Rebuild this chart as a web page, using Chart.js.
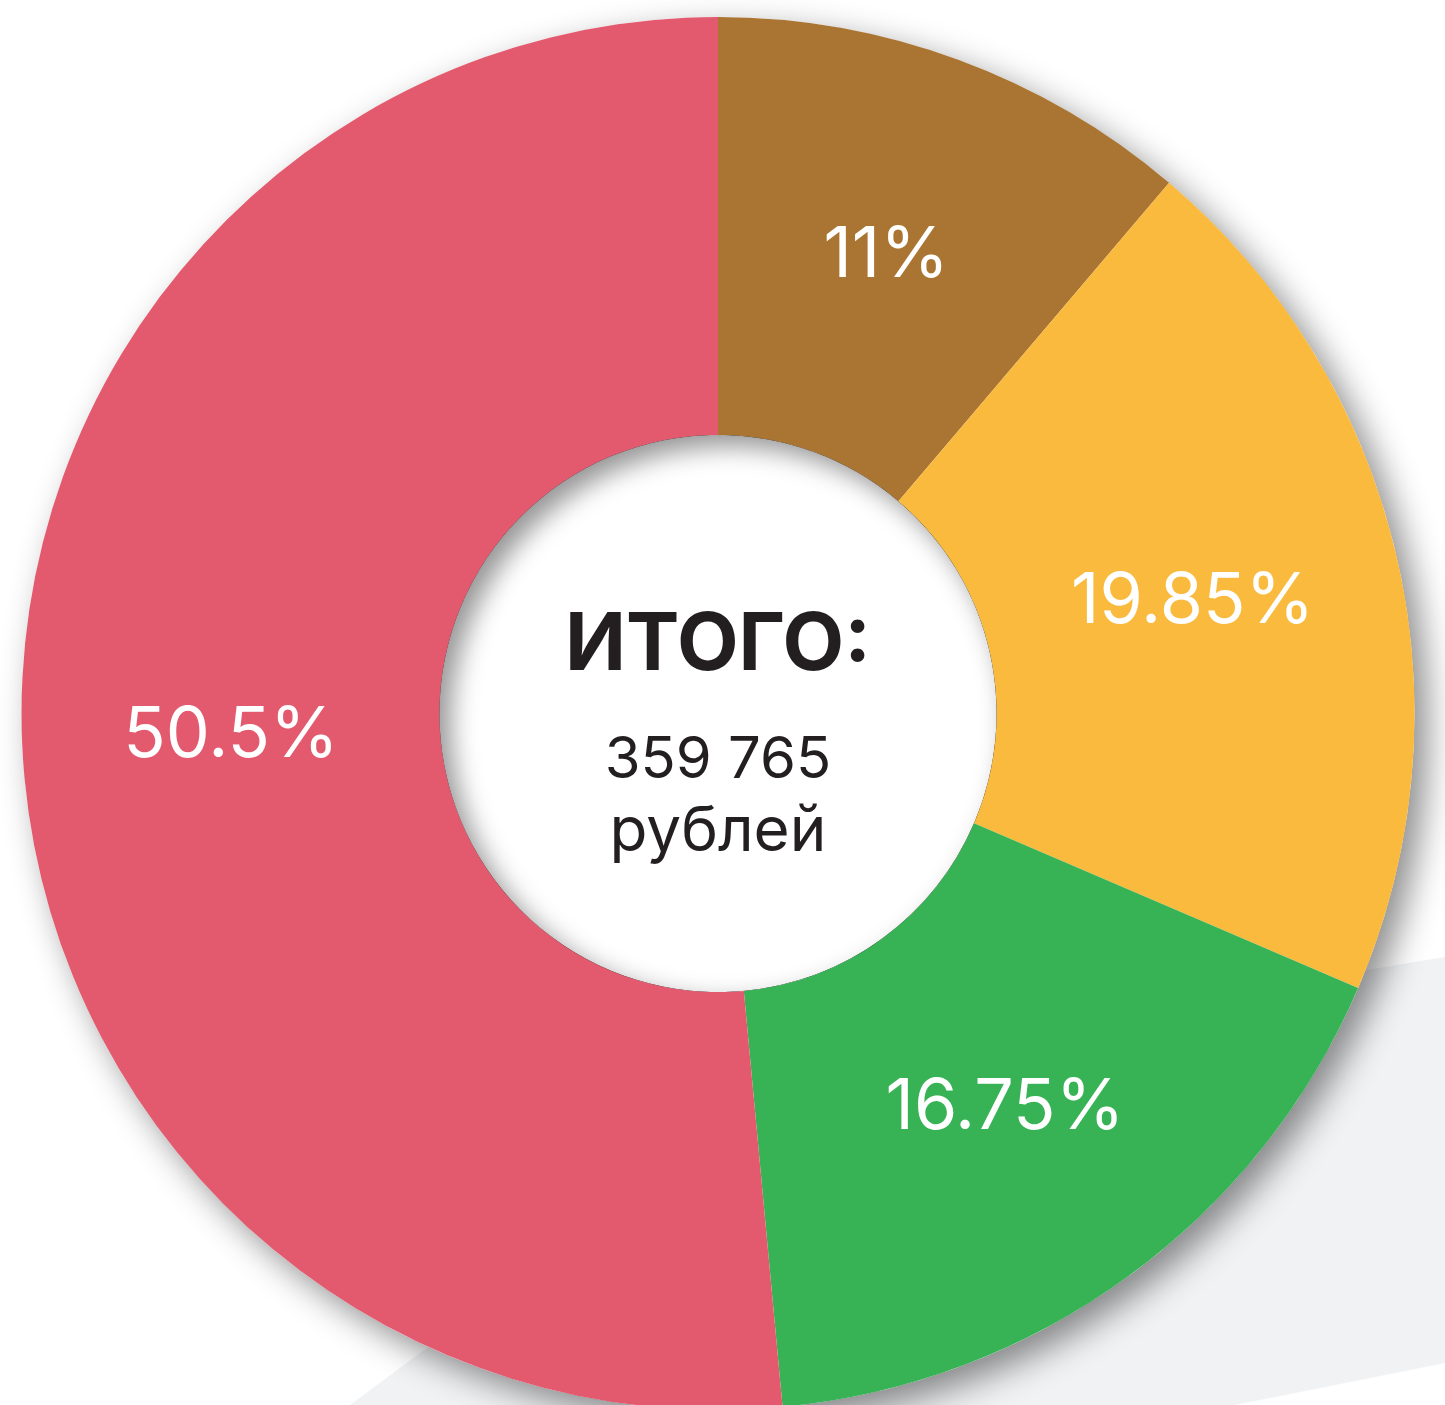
<!DOCTYPE html>
<html>
<head>
<meta charset="utf-8">
<script src="https://cdn.jsdelivr.net/npm/chart.js@4.4.0/dist/chart.umd.min.js"></script>
<style>
    html, body { margin: 0; padding: 0; background: #fff; overflow: hidden; }
    #wrap { position: relative; width: 1445px; height: 1445px; }
</style>
</head>
<body>
<div id="wrap"><canvas id="share_chart"></canvas></div>
<script>
var shareLabels = ["Доля 1", "Доля 2", "Доля 3", "Доля 4"];
var shareValues = [11, 19.85, 16.75, 50.5];
var shareColors = ["#AA7532", "#F9BA3E", "#37B355", "#E35A6E"];

var totalTitle = "ИТОГО:";
var totalAmount = "359 765";
var totalUnit = "рублей";

var fontName = "Inter, 'Noto Sans', sans-serif";

// light grey shape behind the ring + white page
var backdropPlugin = {
    id: 'backdrop',
    beforeDraw: function(chart) {
        var ctx = chart.ctx;
        ctx.save();
        ctx.fillStyle = "#fff";
        ctx.fillRect(0, 0, chart.width, chart.height);
        ctx.fillStyle = "#F1F2F4";
        ctx.beginPath();
        ctx.moveTo(350, 1405);
        ctx.lineTo(813, 1062);
        ctx.lineTo(1445, 957);
        ctx.lineTo(1445, 1363);
        ctx.lineTo(1235, 1405);
        ctx.closePath();
        ctx.fill();
        ctx.restore();
    }
};

// drop shadow of the whole ring, drawn under the arcs
var ringShadowPlugin = {
    id: 'ringShadow',
    beforeDatasetsDraw: function(chart) {
        var arc = chart.getDatasetMeta(0).data[0];
        if (!arc) return;
        var ctx = chart.ctx;
        ctx.save();
        ctx.shadowColor = "rgba(0,0,0,0.45)";
        ctx.shadowBlur = 34;
        ctx.shadowOffsetX = 13;
        ctx.shadowOffsetY = 13;
        ctx.fillStyle = "#fff";
        ctx.beginPath();
        ctx.arc(arc.x, arc.y, arc.outerRadius, 0, Math.PI * 2);
        ctx.fill();
        ctx.restore();
    },
    afterDatasetsDraw: function(chart) {
        var meta = chart.getDatasetMeta(0);
        var arc = meta.data[0];
        if (!arc) return;
        var ctx = chart.ctx;
        var cx = arc.x, cy = arc.y, r = arc.innerRadius;

        // shadow falling into the hole
        ctx.save();
        ctx.beginPath();
        ctx.arc(cx, cy, r, 0, Math.PI * 2);
        ctx.clip();
        ctx.beginPath();
        ctx.arc(cx, cy, r + 300, 0, Math.PI * 2);
        ctx.arc(cx, cy, r, 0, Math.PI * 2, true);
        ctx.shadowColor = "rgba(0,0,0,0.42)";
        ctx.shadowBlur = 26;
        ctx.shadowOffsetX = 11;
        ctx.shadowOffsetY = 11;
        ctx.fillStyle = "#000";
        ctx.fill();
        ctx.restore();

        // centre text
        ctx.save();
        ctx.fillStyle = "#231F20";
        ctx.textAlign = "center";
        ctx.textBaseline = "alphabetic";
        ctx.font = "bold 80px " + fontName;
        ctx.fillText(totalTitle, cx, cy - 44);
        ctx.font = "400 58px " + fontName;
        ctx.fillText(totalAmount, cx, cy + 64);
        ctx.font = "400 62px " + fontName;
        ctx.fillText(totalUnit, cx, cy + 137);
        ctx.restore();

        // percentage labels in each slice
        ctx.save();
        ctx.fillStyle = "#fff";
        ctx.textAlign = "center";
        ctx.textBaseline = "middle";
        ctx.font = "400 70px " + fontName;
        for (var i = 0; i < meta.data.length; i++) {
            var p = meta.data[i].tooltipPosition();
            ctx.fillText(shareValues[i] + "%", p.x, p.y);
        }
        ctx.restore();
    }
};

var ctxShare = document.getElementById("share_chart").getContext("2d");

var share_chart = new Chart(ctxShare, {
    type: 'doughnut',
    data: {
        labels: shareLabels,
        datasets: [{
            data: shareValues,
            backgroundColor: shareColors,
            borderWidth: 0,
            hoverOffset: 0
        }]
    },
    options: {
        responsive: true,
        maintainAspectRatio: false,
        animation: false,
        events: [],
        cutout: '40%',
        layout: {
            padding: { left: 21, right: 30, top: 17, bottom: 35 }
        },
        plugins: {
            legend: { display: false },
            tooltip: { enabled: false }
        }
    },
    plugins: [backdropPlugin, ringShadowPlugin]
});
</script>
</body>
</html>
